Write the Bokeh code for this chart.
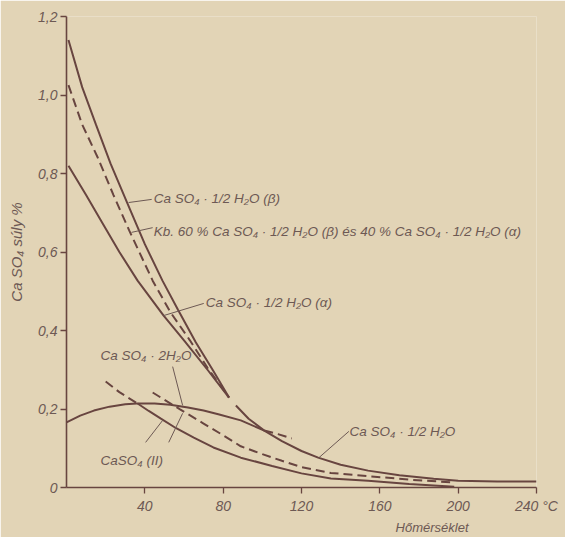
from bokeh.plotting import figure
from bokeh.models import Range1d, Label, FixedTicker, Title
from bokeh.embed import file_html
from bokeh.resources import INLINE

# ---------------- data (temperature °C, CaSO4 weight %) ----------------
beta_T = [1, 8, 15, 22.5, 31, 40, 49, 57, 66, 75, 83]
beta_C = [1.14, 1.02, 0.925, 0.825, 0.725, 0.62, 0.527, 0.452, 0.37, 0.297, 0.229]

mix_T = [1, 8, 16, 24, 32, 44, 53, 63, 72, 83]
mix_C = [1.025, 0.925, 0.84, 0.745, 0.655, 0.527, 0.447, 0.375, 0.305, 0.229]

alpha_T = [1, 10, 18.4, 27, 36.3, 49.6, 60, 72, 83]
alpha_C = [0.82, 0.745, 0.673, 0.60, 0.527, 0.438, 0.375, 0.30, 0.229]

gyp_T = [0, 7, 14, 22, 30, 36, 45, 53, 62, 70, 78, 89, 101]
gyp_C = [0.166, 0.183, 0.196, 0.206, 0.212, 0.214, 0.214, 0.211, 0.204, 0.196, 0.186, 0.171, 0.145]
gyp_meta_T = [101, 108, 115]
gyp_meta_C = [0.145, 0.136, 0.125]

hh_T = [86.5, 93, 101, 110, 120, 128.5, 140, 154, 170, 187.5, 200, 220, 240]
hh_C = [0.209, 0.175, 0.145, 0.118, 0.093, 0.076, 0.058, 0.043, 0.031, 0.022, 0.017, 0.015, 0.015]

anh_meta_T = [20, 27, 36.3]
anh_meta_C = [0.27, 0.243, 0.214]
anh_T = [36.3, 42, 48, 56, 65, 75, 89, 105, 120, 135, 154, 175, 198]
anh_C = [0.214, 0.195, 0.176, 0.151, 0.127, 0.102, 0.076, 0.055, 0.036, 0.023, 0.017, 0.009, 0.002]

anh2_T = [44, 58, 70, 80, 89, 100, 110, 120, 135, 154, 175, 197]
anh2_C = [0.242, 0.199, 0.163, 0.133, 0.105, 0.085, 0.068, 0.052, 0.037, 0.029, 0.02, 0.013]

x_ticks = [40, 80, 120, 160, 200, 240]
x_tick_labels = ["40", "80", "120", "160", "200", "240 °C"]
y_ticks = [0, 0.2, 0.4, 0.6, 0.8, 1.0, 1.2]
y_tick_labels = ["0", "0,2", "0,4", "0,6", "0,8", "1,0", "1,2"]

# ---------------- annotations ----------------
labels = [
    ("Ca SO₄ · 1/2 H₂O (β)", 44.5, 0.736),
    ("Kb. 60 % Ca SO₄ · 1/2 H₂O (β) és 40 % Ca SO₄ · 1/2 H₂O (α)", 44.5, 0.652),
    ("Ca SO₄ · 1/2 H₂O (α)", 71.1, 0.471),
    ("Ca SO₄ · 2H₂O", 17.4, 0.336),
    ("CaSO₄ (II)", 17.4, 0.069),
    ("Ca SO₄ · 1/2 H₂O", 144.5, 0.143),
]
leaders = [  # (x0, y0, x1, y1)
    (31.7, 0.726, 43.5, 0.734),
    (33.2, 0.650, 44.0, 0.662),
    (49.6, 0.438, 70.1, 0.469),
    (59.3, 0.209, 54.2, 0.308),
    (49.1, 0.171, 40.4, 0.115),
    (59.3, 0.189, 52.2, 0.115),
    (128.9, 0.076, 144.2, 0.143),
]

BG = "#e2d4b6"
INK = "#684540"
TXT = "#6d5954"
FONT = "Liberation Sans"

p = figure(width=565, height=537, output_backend="svg", toolbar_location=None,
           x_range=Range1d(0, 240), y_range=Range1d(0, 1.2),
           min_border_left=66, min_border_right=29, min_border_top=16, min_border_bottom=50)
p.title = None
p.background_fill_color = BG
p.border_fill_color = BG
p.outline_line_color = None
p.xgrid.visible = False
p.ygrid.visible = False

for ax in (p.xaxis, p.yaxis):
    ax.axis_line_color = INK
    ax.axis_line_width = 1.6
    ax.major_tick_line_color = INK
    ax.major_tick_line_width = 1.3
    ax.major_tick_in = 0
    ax.major_tick_out = 6
    ax.minor_tick_line_color = None
    ax.major_label_text_font = FONT
    ax.major_label_text_font_style = "italic"
    ax.major_label_text_font_size = "14px"
    ax.major_label_text_color = TXT

p.xaxis.ticker = FixedTicker(ticks=x_ticks)
p.xaxis.major_label_overrides = {t: s for t, s in zip(x_ticks, x_tick_labels)}
p.yaxis.ticker = FixedTicker(ticks=y_ticks)
p.yaxis.major_label_overrides = {t: s for t, s in zip(y_ticks, y_tick_labels)}
p.xaxis.major_label_standoff = 4
p.yaxis.major_label_standoff = 3

p.yaxis.axis_label = "Ca SO₄ súly %"
p.yaxis.axis_label_text_font = FONT
p.yaxis.axis_label_text_font_style = "italic"
p.yaxis.axis_label_text_font_size = "15px"
p.yaxis.axis_label_text_color = TXT
p.yaxis.axis_label_standoff = 10

p.add_layout(Title(text="Hőmérséklet", align="right", offset=68, standoff=2,
                   text_font=FONT, text_font_style="italic", text_font_size="13px",
                   text_color=TXT), "below")

lw = 2.0
p.line(beta_T, beta_C, line_color=INK, line_width=lw)
p.line(mix_T, mix_C, line_color=INK, line_width=lw, line_dash="9 5")
p.line(alpha_T, alpha_C, line_color=INK, line_width=lw)
p.line(gyp_T, gyp_C, line_color=INK, line_width=lw)
p.line(gyp_meta_T, gyp_meta_C, line_color=INK, line_width=lw, line_dash="9 5")
p.line(hh_T, hh_C, line_color=INK, line_width=lw)
p.line(anh_meta_T, anh_meta_C, line_color=INK, line_width=lw, line_dash="9 5")
p.line(anh_T, anh_C, line_color=INK, line_width=lw)
p.line(anh2_T, anh2_C, line_color=INK, line_width=lw, line_dash="9 5")

p.segment(x0=[l[0] for l in leaders], y0=[l[1] for l in leaders],
          x1=[l[2] for l in leaders], y1=[l[3] for l in leaders],
          line_color=TXT, line_width=1.0)

for text, x, y in labels:
    p.add_layout(Label(x=x, y=y, text=text, text_font=FONT, text_font_style="italic",
                       text_font_size="13.5px", text_color=TXT,
                       text_align="left", text_baseline="middle"))

html = file_html(p, INLINE)
open("out.html", "w").write(html)
